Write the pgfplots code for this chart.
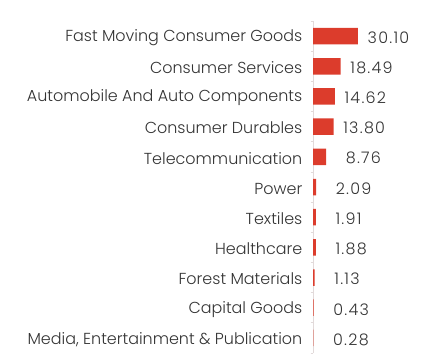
\documentclass[border=0pt]{standalone}
\usepackage{fontspec}
\setmainfont{Poppins}[UprightFont=* Light]
\newfontfamily\numfont{Poppins}[UprightFont=* Light, LetterSpace=8]
\usepackage{pgfplots}
\pgfplotsset{compat=1.18}
\definecolor{barred}{HTML}{DC3C2C}
\definecolor{txt}{HTML}{333333}
\definecolor{axgray}{HTML}{E2DADA}
\begin{document}
\begin{tikzpicture}
\useasboundingbox (0,0) rectangle (425bp,363bp);
\begin{axis}[
  at={(313bp,10bp)}, anchor=south west,
  scale only axis, width=104.65bp, height=332bp,
  xmin=0, xmax=70, ymin=-0.5, ymax=10.5, y dir=reverse,
  xbar, bar width=16.5bp, bar shift=0pt,
  axis lines*=left,
  x axis line style={draw=none},
  y axis line style={draw=axgray, line width=0.8bp},
  xtick=\empty,
  ytick={0,...,10},
  yticklabels={Fast Moving Consumer Goods,Consumer Services,Automobile And Auto Components,Consumer Durables,Telecommunication,Power,Textiles,Healthcare,Forest Materials,Capital Goods,{Media, Entertainment \& Publication}},
  major tick length=0pt,
  minor ytick={-0.5,0.5,...,10.5},
  minor tick length=2.5bp, tick align=outside,
  minor tick style={draw=axgray, line width=0.8bp},
  yticklabel style={font=\fontsize{16}{18}\selectfont, text=txt, inner sep=0pt, xshift=-10.5bp, yshift=-1.5bp},
  point meta=x,
  nodes near coords={\pgfmathprintnumber[fixed,fixed zerofill,precision=2,assume math mode=true]{\pgfplotspointmeta}},
  every node near coord/.append style={font=\numfont\fontsize{16}{18}\selectfont, text=txt, anchor=west, inner sep=0pt, yshift=-1.5bp},
  clip=false,
]
\addplot[draw=none, fill=barred, every node near coord/.append style={xshift=9.5bp}]
  coordinates {(30.10,0) (18.49,1) (14.62,2) (13.80,3)};
\addplot[draw=none, fill=barred, every node near coord/.append style={xshift=19.5bp}]
  coordinates {(8.76,4) (2.09,5) (1.91,6) (1.88,7) (1.13,8) (0.43,9) (0.28,10)};
\end{axis}
\end{tikzpicture}
\end{document}
